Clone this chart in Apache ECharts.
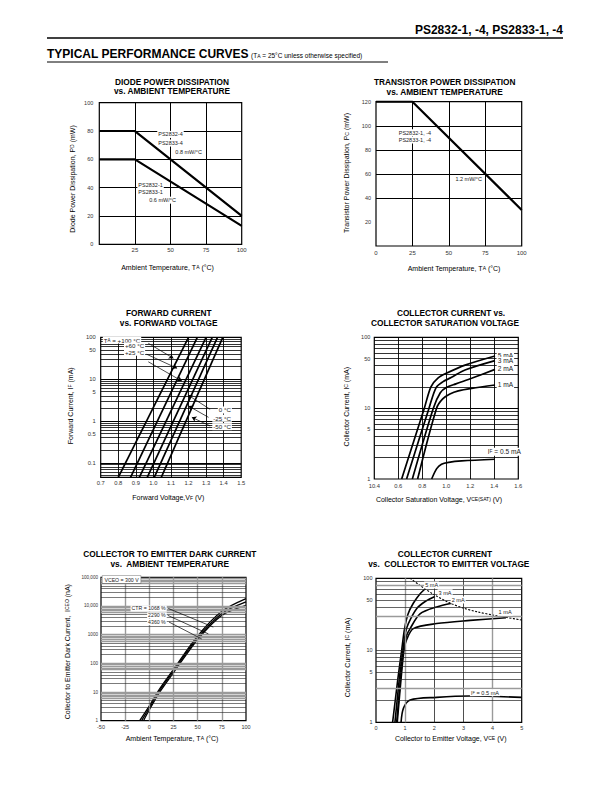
<!DOCTYPE html>
<html><head><meta charset="utf-8">
<script src="https://cdn.jsdelivr.net/npm/echarts@6/dist/echarts.min.js"></script>
<style>html,body{margin:0;padding:0;background:#fff}#c{width:612px;height:792px}</style>
</head><body><div id="c"></div>
<script>
// ---------------- DATA ----------------
// Chart 1: diode power dissipation vs ambient temperature
const c1Temp = [0, 25, 100];
const c1Pd4 = [80, 80, 20];
const c1Pd1 = [60, 60, 13];
// Chart 2: transistor power dissipation
const c2Temp = [0, 25, 100];
const c2Pc = [120, 120, 30];
// Chart 3: forward current vs forward voltage (IF in mA, VF in V)
const c3If = [0.045, 100];
const c3V100 = [0.80, 1.20];
const c3V60 = [0.87, 1.25];
const c3V25 = [0.92, 1.30];
const c3V0 = [0.965, 1.335];
const c3Vm25 = [1.005, 1.365];
const c3Vm50 = [1.045, 1.395];
// Chart 4: collector current vs collector saturation voltage
const c4V5 = [0.628, 0.817, 0.872, 0.93, 1.0, 1.156, 1.406];
const c4I5 = [1, 10, 20, 26.5, 31, 40.5, 54.5];
const c4V3 = [0.669, 0.856, 0.915, 0.97, 1.04, 1.156, 1.406];
const c4I3 = [1, 10, 19.5, 23.5, 27, 34.6, 46.9];
const c4V2 = [0.717, 0.892, 0.95, 1.0, 1.08, 1.211, 1.406];
const c4I2 = [1, 10, 16.5, 19.5, 22, 26.4, 35.3];
const c4V1 = [0.761, 0.919, 0.97, 1.03, 1.1, 1.211, 1.406];
const c4I1 = [1, 10, 13.5, 15.8, 17.5, 19, 21.2];
const c4V05 = [0.878, 0.92, 0.96, 1.02, 1.128, 1.406];
const c4I05 = [1, 1.4, 1.62, 1.72, 1.8, 1.9];
// Chart 5: collector to emitter dark current vs ambient temperature (nA)
const c5T1068 = [-10, 0, 10, 25, 50, 75, 100];
const c5I1068 = [1, 3.3, 12, 62, 900, 6500, 18000];
const c5T2290 = [-8, 0, 10, 25, 50, 75, 100];
const c5I2290 = [1, 2.8, 10.5, 55, 780, 5500, 14000];
const c5T4360 = [-6, 0, 10, 25, 50, 75, 100];
const c5I4360 = [1, 2.4, 9, 47, 680, 4700, 10500];
// Chart 6: collector current vs collector to emitter voltage
const c6V5 = [0.57, 0.75, 0.88, 0.98, 1.1, 1.28, 1.5, 1.68];
const c6I5 = [1, 4, 10, 20, 32, 45, 60, 71];
const c6V3 = [0.65, 0.8, 0.92, 1.02, 1.11, 1.4, 1.7, 2.02];
const c6I3 = [1, 4, 10, 18, 23.5, 38, 48, 56];
const c6V2 = [0.71, 0.84, 0.94, 1.05, 1.17, 1.51, 2.08, 2.6];
const c6I2 = [1, 4, 10, 16, 20, 32, 40, 45];
const c6V1 = [0.73, 0.86, 0.96, 1.05, 1.28, 2.08, 3.23, 4.46];
const c6I1 = [1, 4, 10, 14, 20, 23.5, 26, 28.3];
const c6V05 = [0.86, 0.94, 1.17, 2.08, 3.23, 5];
const c6I05 = [1, 1.56, 2.04, 2.22, 2.32, 2.22];
const c6LimV = [1.17, 1.5, 2, 2.5, 3, 3.5, 4, 4.5, 5];
const c6LimI = [100, 80, 59, 46, 38.5, 34, 31, 28.5, 26.3];
// Tick labels
const c1XTicks = [25, 50, 75, 100];
const c1YTicks = [0, 20, 40, 60, 80, 100];
const c2XTicks = [0, 25, 50, 75, 100];
const c2YTicks = [20, 40, 60, 80, 100, 120];
const c3XTicks = [0.7, 0.8, 0.9, 1.0, 1.1, 1.2, 1.3, 1.4, 1.5];
const c3XText = ['0.7', '0.8', '0.9', '1.0', '1.1', '1.2', '1.3', '1.4', '1.5'];
const c3YTicks = [0.1, 0.5, 1, 5, 10, 50, 100];
const c4XTicks = [0.4, 0.6, 0.8, 1.0, 1.2, 1.4, 1.6];
const c4XText = ['10.4', '0.6', '0.8', '1.0', '1.2', '1.4', '1.6'];
const c4YTicks = [1, 5, 10, 50, 100];
const c5XTicks = [-50, -25, 0, 25, 50, 75, 100];
const c5YTicks = [1, 10, 100, 1000, 10000, 100000];
const c5YText = ['1', '10', '100', '1000', '10,000', '100,000'];
const c6XTicks = [0, 1, 2, 3, 4, 5];
const c6YTicks = [1, 5, 10, 50, 100];

// ---------------- BUILD ----------------
const FF = "'Liberation Sans', Arial, Helvetica, sans-serif";
const near = (a, b) => Math.abs(a - b) <= 1e-6 * Math.max(1, Math.abs(b));
function axis(gi, type, min, max, ticks, texts, fs, margin, extra) {
  texts = texts || ticks.map(String);
  const a = {
    gridIndex: gi, type, min, max,
    axisLine: {show: false}, axisTick: {show: false}, splitLine: {show: false}, minorSplitLine: {show: false},
    axisLabel: {
      customValues: ticks, fontSize: fs, color: '#333', fontFamily: FF, margin,
      showMinLabel: true, showMaxLabel: true, hideOverlap: false,
      formatter: function (v) { for (let i = 0; i < ticks.length; i++) if (near(v, ticks[i])) return texts[i]; return ''; }
    }
  };
  if (type === 'log') a.logBase = 10;
  return Object.assign(a, extra || {});
}
function logLines(lo, hi) {
  const out = [];
  for (let e = Math.floor(Math.log10(lo)); e <= Math.ceil(Math.log10(hi)); e++)
    for (let k = 1; k <= 9; k++) {
      const v = k * Math.pow(10, e);
      if (v > lo * 1.001 && v < hi * 0.999) out.push({v, k});
    }
  return out;
}
function gridSeries(gi, vx, vy) {
  const d = vx.map(g => ({xAxis: g.v, lineStyle: {color: g.c, width: g.w, type: 'solid'}}))
    .concat(vy.map(g => ({yAxis: g.v, lineStyle: {color: g.c, width: g.w, type: 'solid'}})));
  return {type: 'line', xAxisIndex: gi, yAxisIndex: gi, data: [], z: 1, silent: true,
    markLine: {silent: true, symbol: ['none', 'none'], animation: false, label: {show: false}, data: d}};
}
function curve(gi, xs, ys, w, extra) {
  return Object.assign({type: 'line', xAxisIndex: gi, yAxisIndex: gi, symbol: 'none', silent: true, z: 3,
    data: xs.map((x, i) => [x, ys[i]]), lineStyle: {color: '#000', width: w}}, extra || {});
}
function anno(gi, arrows, texts, arrowHead, fs) {
  return {type: 'line', xAxisIndex: gi, yAxisIndex: gi, data: [], z: 5, silent: true,
    markLine: {silent: true, animation: false, symbol: ['none', arrowHead ? 'arrow' : 'none'], symbolSize: 4.5,
      label: {show: false}, lineStyle: {color: '#000', width: 0.7, type: 'solid'},
      data: arrows.map(a => [{coord: [a[0], a[1]]}, {coord: [a[2], a[3]]}])},
    markPoint: {silent: true, animation: false, symbol: 'circle', symbolSize: 0,
      data: texts.map(t => ({coord: [t.x, t.y], label: Object.assign({
        show: true, position: [0, 0], formatter: t.t, align: t.a || 'left', verticalAlign: 'middle',
        fontSize: fs || 5.5, color: '#222', fontFamily: FF, backgroundColor: '#fff', padding: [0.5, 1],
        rich: {s: {fontSize: (fs || 5.5) * 0.72, fontFamily: FF, color: '#222', backgroundColor: '#fff'}}
      }, t.l || {})}))}};
}
const blk = (arr, w) => arr.map(v => ({v, c: '#000', w: w || 1}));

const grids = [
  {left: 99.3, top: 102.7, width: 142.4, height: 141.6},
  {left: 376, top: 101.7, width: 145.7, height: 144.3},
  {left: 100.7, top: 337.3, width: 140.5, height: 140},
  {left: 374.3, top: 337.3, width: 144, height: 141.7},
  {left: 101, top: 577.3, width: 145, height: 143.4},
  {left: 376, top: 578.3, width: 145.7, height: 144}
].map(g => Object.assign({show: true, borderColor: '#000', borderWidth: 1.2, backgroundColor: 'rgba(0,0,0,0)', containLabel: false}, g));

const xAxes = [
  axis(0, 'value', 0, 100, c1XTicks, null, 6, 3, {interval: 25}),
  axis(1, 'value', 0, 100, c2XTicks, null, 6, 3.5, {interval: 25}),
  axis(2, 'value', 0.7, 1.5, c3XTicks, c3XText, 5.8, 2.5, {interval: 0.1}),
  axis(3, 'value', 0.4, 1.6, c4XTicks, c4XText, 5.8, 3.5, {interval: 0.2}),
  axis(4, 'value', -50, 100, c5XTicks, null, 5.5, 3.5, {interval: 25}),
  axis(5, 'value', 0, 5, c6XTicks, null, 5.5, 2.5, {interval: 1})
];
const yAxes = [
  axis(0, 'value', 0, 100, c1YTicks, null, 5.5, 6, {interval: 20}),
  axis(1, 'value', 0, 120, c2YTicks, null, 5.5, 5, {interval: 20}),
  axis(2, 'log', 0.045, 100, c3YTicks, null, 5.8, 5),
  axis(3, 'log', 1, 100, c4YTicks, null, 5.5, 4),
  axis(4, 'log', 1, 100000, c5YTicks, c5YText, 4.6, 3),
  axis(5, 'log', 1, 100, c6YTicks, null, 5.5, 3.5)
];

const c3Grid = logLines(0.045, 100).map(g => ({v: g.v, c: '#000', w: g.k === 1 ? 1.2 : 0.8}));
const c4Grid = logLines(1, 100).map(g => ({v: g.v, c: '#000', w: g.k === 1 ? 1.2 : 0.8}));
const c5Grid = logLines(1, 100000).map(g => ({v: g.v, c: g.k >= 6 || g.k === 1 ? '#9a9a9a' : '#222', w: g.k >= 6 || g.k === 1 ? 1.4 : 0.6}));
const c6Grid = logLines(1, 100).map(g => ({v: g.v, c: (g.k === 8 && g.v > 50) || g.k === 3 ? '#9a9a9a' : '#222', w: (g.k === 8 && g.v > 50) || g.k === 3 ? 1.3 : 0.7}));

const series = [
  // chart 1
  gridSeries(0, blk([25, 50, 75]), blk([20, 40, 60, 80])),
  curve(0, c1Temp, c1Pd4, 2.2),
  curve(0, c1Temp, c1Pd1, 2.2),
  anno(0, [], [
    {x: 40.7, y: 77.6, t: 'PS2832-4'}, {x: 40.7, y: 71.5, t: 'PS2833-4'}, {x: 52.7, y: 65.2, t: '0.8 mW/°C'},
    {x: 26.7, y: 41.8, t: 'PS2832-1'}, {x: 26.7, y: 37.0, t: 'PS2833-1'}, {x: 34.4, y: 31.2, t: '0.6 mW/°C'}
  ]),
  // chart 2
  gridSeries(1, blk([25, 50, 75]), blk([40, 60, 80, 100])),
  curve(1, c2Temp, c2Pc, 2.2),
  anno(1, [], [
    {x: 14.9, y: 94.2, t: 'PS2832-1, -4'}, {x: 14.9, y: 88.1, t: 'PS2833-1, -4'}, {x: 53.8, y: 55.5, t: '1.2 mW/°C'}
  ]),
  // chart 3
  gridSeries(2, blk([0.8, 0.9, 1.0, 1.1, 1.2, 1.3, 1.4], 0.9), c3Grid),
  curve(2, c3V100, c3If, 1.7), curve(2, c3V60, c3If, 1.7), curve(2, c3V25, c3If, 1.7),
  curve(2, c3V0, c3If, 1.7), curve(2, c3Vm25, c3If, 1.7), curve(2, c3Vm50, c3If, 1.7),
  anno(2, [
    [0.971, 72, 1.114, 31.5], [0.962, 39.3, 1.135, 18.2], [0.971, 26, 1.162, 9.0],
    [1.323, 1.9, 1.196, 4.18], [1.314, 1.22, 1.2, 2.28], [1.323, 0.76, 1.219, 1.22]
  ], [
    {x: 0.712, y: 86, t: 'T{s|A} = +100 °C'}, {x: 0.953, y: 62, t: '+60 °C', a: 'right'}, {x: 0.953, y: 44, t: '+25 °C', a: 'right'},
    {x: 1.447, y: 1.83, t: '0 °C', a: 'right'}, {x: 1.447, y: 1.16, t: '-25 °C', a: 'right'}, {x: 1.447, y: 0.73, t: '-50 °C', a: 'right'}
  ], true, 6.2),
  // chart 4
  gridSeries(3, blk([0.6, 0.8, 1.0, 1.2, 1.4], 0.9), c4Grid),
  curve(3, c4V5, c4I5, 1.7, {smooth: 0.3}), curve(3, c4V3, c4I3, 1.7, {smooth: 0.3}),
  curve(3, c4V2, c4I2, 1.7, {smooth: 0.3}), curve(3, c4V1, c4I1, 1.7, {smooth: 0.3}),
  curve(3, c4V05, c4I05, 1.7, {smooth: 0.3}),
  anno(3, [], [
    {x: 1.42, y: 56, t: '5 mA'}, {x: 1.42, y: 46.4, t: '3 mA'}, {x: 1.42, y: 36.6, t: '2 mA'}, {x: 1.42, y: 21.3, t: '1 mA'},
    {x: 1.337, y: 2.43, t: 'I{s|F} = 0.5 mA'}
  ], false, 6.6),
  // chart 5
  gridSeries(4, [-25, 0, 25, 50, 75].map(v => ({v, c: '#9a9a9a', w: 1.4})), c5Grid),
  curve(4, c5T1068, c5I1068, 1.3, {smooth: 0.3}),
  curve(4, c5T2290, c5I2290, 1.3, {smooth: 0.3}),
  curve(4, c5T4360, c5I4360, 1.3, {smooth: 0.3}),
  anno(4, [
    [19.6, 8200, 66.2, 1840], [19.0, 4730, 61.0, 1070], [20.3, 2760, 54.2, 710]
  ], [
    {x: -48.5, y: 83000, t: 'VCEO = 300 V', l: {borderColor: '#777', borderWidth: 0.6, padding: [1, 2]}},
    {x: 18, y: 8200, t: 'CTR = 1068 %', a: 'right'}, {x: 18, y: 4730, t: '2290 %', a: 'right'}, {x: 18, y: 2760, t: '4360 %', a: 'right'}
  ], false, 5.2),
  // chart 6
  gridSeries(5, [{v: 1, c: '#9a9a9a', w: 1.4}, {v: 2, c: '#222', w: 0.8}, {v: 3, c: '#222', w: 0.8}, {v: 4, c: '#9a9a9a', w: 1.4}], c6Grid),
  curve(5, c6V5, c6I5, 1.6, {smooth: 0.3}), curve(5, c6V3, c6I3, 1.6, {smooth: 0.3}),
  curve(5, c6V2, c6I2, 1.6, {smooth: 0.3}), curve(5, c6V1, c6I1, 1.6, {smooth: 0.3}),
  curve(5, c6V05, c6I05, 1.6, {smooth: 0.3}),
  curve(5, c6LimV, c6LimI, 1.1, {smooth: 0.3, z: 4, lineStyle: {color: '#000', width: 1.1, type: [2, 1.5]}}),
  anno(5, [], [
    {x: 1.91, y: 80.7, t: '5 mA', a: 'center'}, {x: 2.37, y: 63, t: '3 mA', a: 'center'}, {x: 2.82, y: 50, t: '2 mA', a: 'center'},
    {x: 4.43, y: 33.8, t: '1 mA', a: 'center'}, {x: 3.74, y: 2.58, t: 'I{s|F} = 0.5 mA', a: 'center'}
  ], false, 5.6)
];

// ---------------- TEXT / DECOR ----------------
const TF = "bold 8.3px 'Liberation Sans', Arial, sans-serif";
const AF = "7px 'Liberation Sans', Arial, sans-serif";
const SUB = {s: {font: "5px 'Liberation Sans', Arial, sans-serif"}};
function txt(x, y, text, font, align, rot, extra) {
  return {type: 'text', x, y, rotation: rot || 0, silent: true,
    style: Object.assign({text, font, fill: '#000', align: align || 'center', verticalAlign: 'middle', rich: SUB}, extra || {})};
}
const graphics = [
  txt(563, 29.5, 'PS2832-1, -4, PS2833-1, -4', "bold 12px 'Liberation Sans', Arial, sans-serif", 'right'),
  {type: 'line', silent: true, shape: {x1: 47, y1: 38, x2: 563, y2: 38}, style: {stroke: '#000', lineWidth: 1.3}},
  txt(47, 54, 'TYPICAL PERFORMANCE CURVES', "bold 12px 'Liberation Sans', Arial, sans-serif", 'left'),
  txt(251, 55.5, '(T{s|A} = 25°C unless otherwise specified)', "6.5px 'Liberation Sans', Arial, sans-serif", 'left'),
  {type: 'line', silent: true, shape: {x1: 47, y1: 62, x2: 388, y2: 62}, style: {stroke: '#000', lineWidth: 1}},
  // chart titles
  txt(172, 81.7, 'DIODE POWER DISSIPATION', TF), txt(172, 91, 'vs. AMBIENT TEMPERATURE', TF),
  txt(444.7, 81.7, 'TRANSISTOR POWER DISSIPATION', TF), txt(444.7, 91.5, 'vs. AMBIENT TEMPERATURE', TF),
  txt(168.7, 313, 'FORWARD CURRENT', TF), txt(168.7, 323, 'vs. FORWARD VOLTAGE', TF),
  txt(451, 313.3, 'COLLECTOR CURRENT vs.', TF), txt(445, 323.3, 'COLLECTOR SATURATION VOLTAGE', TF),
  txt(169.7, 553.5, 'COLLECTOR TO EMITTER DARK CURRENT', TF), txt(169.7, 564, 'vs.  AMBIENT TEMPERATURE', TF),
  txt(445, 553.7, 'COLLECTOR CURRENT', TF), txt(448.8, 564, 'vs.  COLLECTOR TO EMITTER VOLTAGE', TF),
  // axis titles
  txt(167.5, 267.3, 'Ambient Temperature, T{s|A} (°C)', AF),
  txt(72, 179, 'Diode Power Dissipation, P{s|D} (mW)', AF, 'center', Math.PI / 2),
  txt(454, 268, 'Ambient Temperature, T{s|A} (°C)', AF),
  txt(346.7, 173, 'Transistor Power Dissipation, P{s|C} (mW)', AF, 'center', Math.PI / 2),
  txt(168.3, 497.7, 'Forward Voltage,V{s|F} (V)', AF),
  txt(70, 405.8, 'Forward Current, I{s|F} (mA)', AF, 'center', Math.PI / 2),
  txt(439, 499.3, 'Collector Saturation Voltage, V{s|CE(SAT)} (V)', AF),
  txt(346, 406.7, 'Collector Current, I{s|C} (mA)', AF, 'center', Math.PI / 2),
  txt(172, 738.3, 'Ambient Temperature, T{s|A} (°C)', AF),
  txt(67.3, 651.7, 'Collector to Emitter Dark Current,  I{s|CEO} (nA)', AF, 'center', Math.PI / 2),
  txt(450.7, 738.3, 'Collector to Emitter Voltage, V{s|CE} (V)', AF),
  txt(347.3, 657.5, 'Collector Current, I{s|C} (mA)', AF, 'center', Math.PI / 2)
];

const chart = echarts.init(document.getElementById('c'), null, {renderer: 'svg'});
chart.setOption({
  animation: false,
  backgroundColor: '#fff',
  grid: grids,
  xAxis: xAxes,
  yAxis: yAxes,
  series: series,
  graphic: graphics
});
</script>
</body></html>
